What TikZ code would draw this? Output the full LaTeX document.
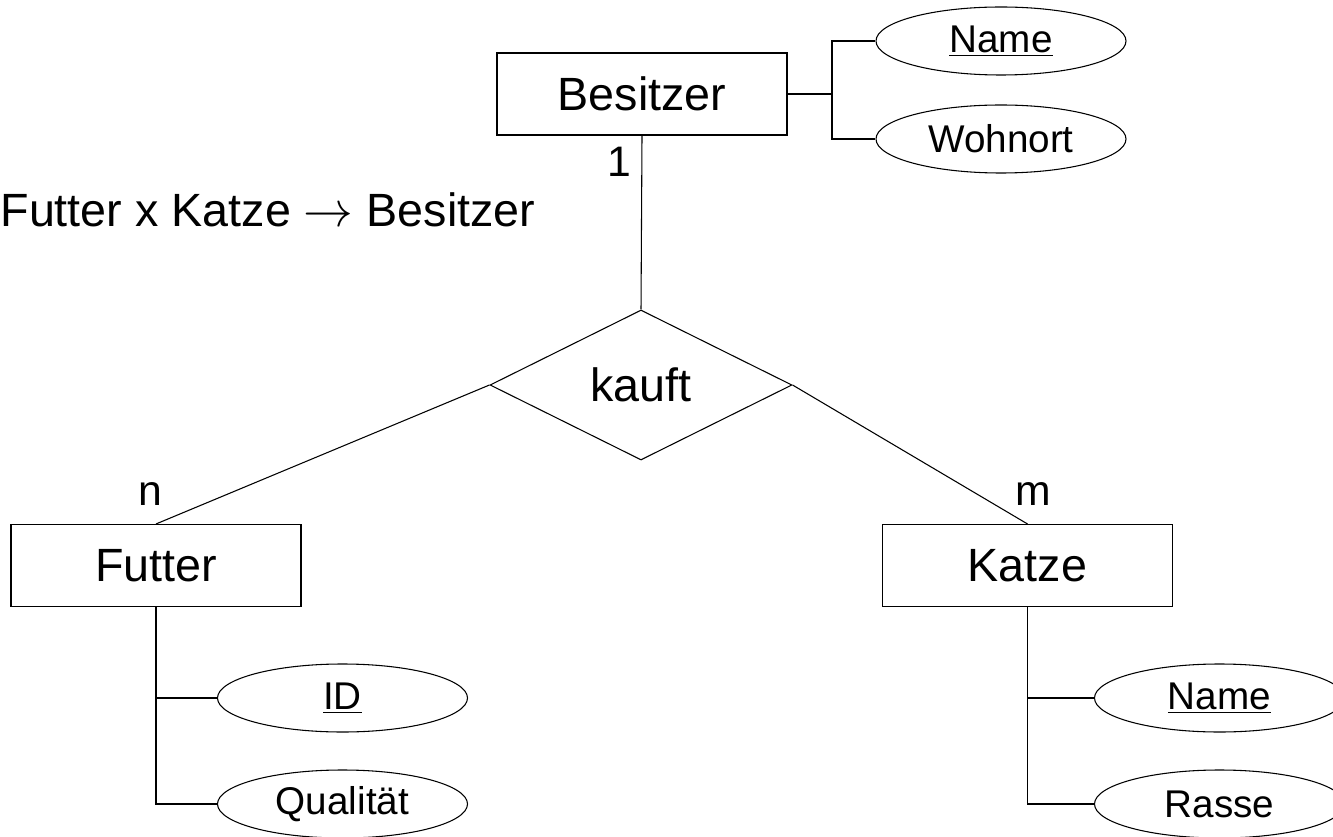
\documentclass[tikz,border=0pt]{standalone}
\usepackage{fontspec}
\setmainfont{Liberation Sans}
\usetikzlibrary{shapes.geometric}
\newcommand{\bigto}{\scalebox{1.5}{$\rightarrow$}}
\begin{document}
\begin{tikzpicture}[x=0.75pt,y=-0.75pt, line width=0.8pt,
  entity/.style={draw, rectangle, inner sep=0pt, minimum width=217.5pt, minimum height=61.5pt,
    font=\fontsize{35}{40}\selectfont},
  attrib/.style={draw, ellipse, inner sep=0pt, minimum width=187.5pt, minimum height=51pt,
    font=\fontsize{29}{32}\selectfont},
  relation/.style={draw, diamond, inner sep=0pt, minimum width=226.5pt, minimum height=112.5pt,
    font=\fontsize{35}{40}\selectfont},
  card/.style={inner sep=0pt, font=\fontsize{32}{36}\selectfont}]
\useasboundingbox (0,0) rectangle (1333,837);
\begin{scope}
\clip (0,0) rectangle (1333,837);

% entities
\node[entity] (besitzer) at (642,94) {Besitzer};
\node[entity] (futter) at (156,565.5) {Futter};
\node[entity] (katze) at (1027.5,565.5) {Katze};

% relationship
\node[relation] (kauft) at (641,385) {kauft};

% attributes
\node[attrib] (bname) at (1001,41) {\underline{Name}};
\node[attrib] (bwohn) at (1001,139) {Wohnort};
\node[attrib] (fid) at (342.5,698) {\underline{ID}};
\node[attrib] (fqual) at (342.5,804) {Qualität};
\node[attrib] (kname) at (1219.5,698) {\underline{Name}};
\node[attrib] (krasse) at (1219.5,804) {Rasse};

% attribute links
\coordinate (bj) at (832,94);
\draw (besitzer.east) -- (bj);
\draw (bname.west) -| (bj) |- (bwohn.west);
\draw (futter.south) |- (fid.west);
\draw (futter.south) |- (fqual.west);
\draw (katze.south) |- (kname.west);
\draw (katze.south) |- (krasse.west);

% relationship links
\draw (besitzer.south) -- (kauft.north);
\draw (kauft.west) -- (futter.north);
\draw (kauft.east) -- (katze.north);

% cardinalities
\node[card] (c1) at (619,162) {1};
\node[card] (cn) at (150,494) {n};
\node[card] (cm) at (1033,494) {m};

% functional dependency
\node[inner sep=0pt, anchor=base west, font=\fontsize{35}{40}\selectfont] (fd) at (0,227)
  {Futter x Katze \bigto{} Besitzer};
\end{scope}
\end{tikzpicture}
\end{document}
